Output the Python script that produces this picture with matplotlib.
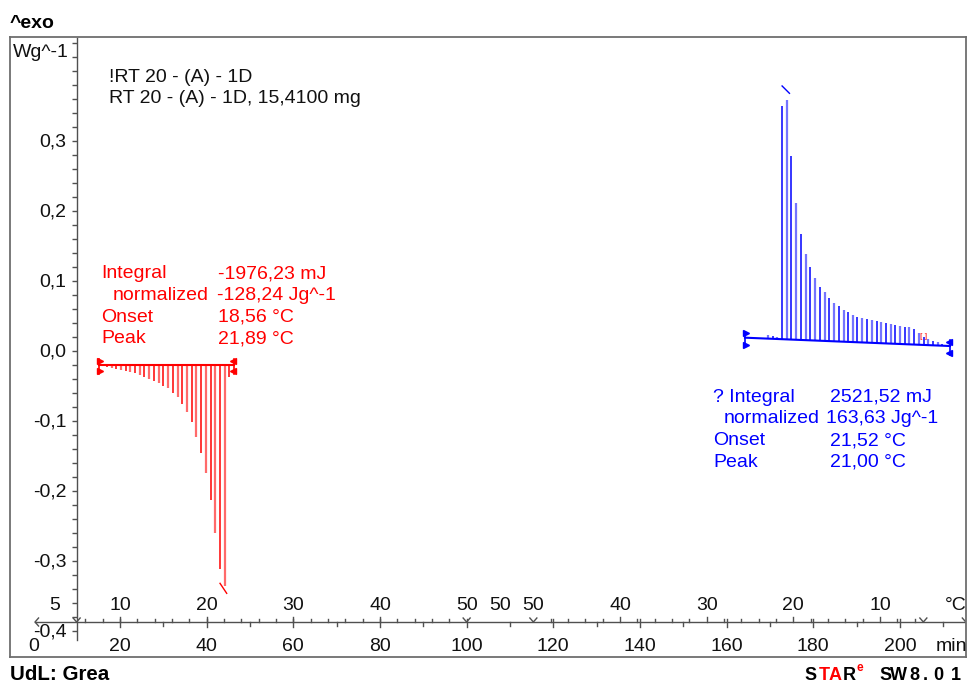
import matplotlib
matplotlib.use("Agg")
import matplotlib.pyplot as plt
import numpy as np

plt.rcParams['font.family'] = ['Liberation Sans', 'DejaVu Sans']

# ---------------- data ----------------
# Melting (endothermic) peak on heating: hatch positions (min) and signal (W/g)
melt_time = [16.94, 18.09, 19.08, 20.17, 21.32, 22.38, 23.47, 24.55, 25.62, 26.77,
             27.85, 28.94, 30.00, 31.08, 32.17, 33.32, 34.38, 35.47, 36.55, 37.62,
             38.70, 39.85, 40.94, 42.00, 43.08, 44.17, 45.23]
melt_signal = [-0.0240, -0.0254, -0.0264, -0.0279, -0.0293, -0.0311, -0.0326, -0.0350, -0.0374, -0.0407,
               -0.0431, -0.0469, -0.0503, -0.0540, -0.0607, -0.0670, -0.0764, -0.0876, -0.1027, -0.1231,
               -0.1460, -0.1757, -0.2129, -0.2603, -0.3124, -0.3360, -0.0374]
melt_base_time = [15.23, 46.25]
melt_base_signal = [-0.0211, -0.0211]
melt_peak_mark_t = [43.09, 44.63]
melt_peak_mark_v = [-0.3326, -0.3469]

# Crystallisation (exothermic) peak on cooling
cryst_time = [167.3, 168.5, 169.6, 170.6, 171.7, 172.7, 173.9, 174.9, 176.1, 177.2,
              178.3, 179.3, 180.5, 181.6, 182.6, 183.7, 184.8, 185.9, 187.0, 188.1,
              189.2, 190.2, 191.3, 192.4, 193.5, 194.6, 195.7, 196.8, 197.9, 198.9,
              200.0, 201.1, 202.2, 203.3, 204.4, 205.5, 206.5, 207.6, 208.7, 209.8]
cryst_signal = [0.0183, 0.0183, 0.0221, 0.0211, 0.0197, 0.3493, 0.3579, 0.2779, 0.2103, 0.1664,
                0.1379, 0.1189, 0.1031, 0.0911, 0.0831, 0.0746, 0.0674, 0.0636, 0.0579, 0.0550,
                0.0507, 0.0483, 0.0469, 0.0446, 0.0431, 0.0426, 0.0403, 0.0389, 0.0374, 0.0371,
                0.0354, 0.0340, 0.0331, 0.0303, 0.0246, 0.0189, 0.0160, 0.0140, 0.0126, 0.0093]
cryst_base_time = [164.24, 211.55]
cryst_base_signal = [0.0183, 0.0064]
cryst_peak_mark_t = [172.8, 174.5]
cryst_peak_mark_v = [0.3779, 0.3674]

# Axes annotation
ytick_vals = [0.3, 0.2, 0.1, 0.0, -0.1, -0.2, -0.3, -0.4]
ytick_labels = ["0,3", "0,2", "0,1", "0,0", "-0,1", "-0,2", "-0,3", "-0,4"]
time_label_vals = [0, 20, 40, 60, 80, 100, 120, 140, 160, 180, 200]
time_labels = ["0", "20", "40", "60", "80", "100", "120", "140", "160", "180", "200"]
temp_label_time = [5.0, 20, 40, 60, 80, 100, 107.7, 115.4, 135.4, 155.4, 175.4, 195.4]
temp_labels = ["5", "10", "20", "30", "40", "50", "50", "50", "40", "30", "20", "10"]
segment_bounds = [10, 100, 115.4, 205.4, 215.2]
heat_temp_ticks = [6, 8, 10, 12, 14, 16, 18, 20, 22, 24, 26, 28, 30, 32, 34, 36, 38, 40, 42, 44, 46, 48]
cool_temp_ticks = [48, 46, 44, 42, 40, 38, 36, 34, 32, 30, 28, 26, 24, 22, 20, 18, 16, 14, 12, 10, 8, 6]

# ---------------- figure ----------------
W, H = 971, 683
fig = plt.figure(figsize=(W / 100, H / 100), dpi=100)

def fx(px):
    return px / W

def fy(py):
    return 1 - py / H

PX_T = 1 / 4.3333   # minutes per pixel
PX_V = 1 / 700.0    # W/g per pixel
fs = 14.0
txt = '#111111'

ax = fig.add_axes([fx(10), fy(657), (966 - 10) / W, (657 - 37) / H])
ax.set_xlim((10 - 33.3) * PX_T, (966 - 33.3) * PX_T)
ax.set_ylim((350.5 - 657) * PX_V, (350.5 - 37) * PX_V)
ax.set_xticks([])
ax.set_yticks([])
for s in ax.spines.values():
    s.set_color('#6e6e6e')
    s.set_linewidth(1.3)

axc = '#505050'
# y axis
y_t = segment_bounds[0]
ax.plot([y_t, y_t], [0.447, -0.413], color=axc, lw=1.0, clip_on=False)
yminor = np.round(np.arange(-0.40, 0.441, 0.02), 2)
ax.hlines(yminor, y_t - 5 * PX_T, y_t, color=axc, lw=1.0)
for v, lab in zip(ytick_vals, ytick_labels):
    ax.text(y_t - 10 * PX_T, v - 6 * PX_V, lab, ha='right', va='baseline', fontsize=fs, color=txt)

# x axis
xa_v = (350.5 - 622) * PX_V
ax.plot([0.4, 216], [xa_v, xa_v], color=axc, lw=1.0)
for t in range(20, 211, 10):
    if t % 20 == 0:
        ax.plot([t, t], [xa_v + 3 * PX_V, xa_v - 5 * PX_V], color=axc, lw=1.0)
    else:
        ax.plot([t, t], [xa_v, xa_v - 4 * PX_V], color=axc, lw=1.0)
for T in heat_temp_ticks:
    t = 2 * T
    ln = 5 if T % 10 == 0 else 3
    ax.plot([t, t], [xa_v, xa_v + ln * PX_V], color=axc, lw=1.0)
for T in cool_temp_ticks:
    t = segment_bounds[2] + 2 * (50 - T)
    ln = 5 if T % 10 == 0 else 3
    ax.plot([t, t], [xa_v, xa_v + ln * PX_V], color=axc, lw=1.0)
for t in segment_bounds:
    ax.plot([t - 3.5 * PX_T, t, t + 3.5 * PX_T], [xa_v + 4 * PX_V, xa_v, xa_v + 4 * PX_V],
            color=axc, lw=1.0)
ax.plot([0.4 + 3.5 * PX_T, 0.4, 0.4 + 3.5 * PX_T], [xa_v + 4 * PX_V, xa_v, xa_v - 4 * PX_V],
        color=axc, lw=1.0)

for t, lab in zip(time_label_vals, time_labels):
    ax.text(t, xa_v - 29 * PX_V, lab, ha='center', va='baseline', fontsize=fs, color=txt)
ax.text((936 - 33.3) * PX_T, xa_v - 29 * PX_V, "min", ha='left', va='baseline', fontsize=fs,
        color=txt, clip_on=True)
for t, lab in zip(temp_label_time, temp_labels):
    ax.text(t, xa_v + 12 * PX_V, lab, ha='center', va='baseline', fontsize=fs, color=txt)
ax.text((945 - 33.3) * PX_T, xa_v + 12 * PX_V, "°C", ha='left', va='baseline', fontsize=fs,
        color=txt, clip_on=True)

# ---------------- melting peak (red) ----------------
red = '#ff0000'
red_l = '#ff6a6a'
base_m = np.interp(melt_time, melt_base_time, melt_base_signal)
for i, (t, b, v) in enumerate(zip(melt_time, base_m, melt_signal)):
    c, lw = (red, 1.1) if i % 2 == 0 else (red_l, 1.6)
    ax.plot([t, t], [b, v], color=c, lw=lw, solid_capstyle='butt')
ax.plot(melt_base_time, melt_base_signal, color=red, lw=1.5)
ax.plot(melt_peak_mark_t, melt_peak_mark_v, color=red, lw=1.0)
for t, mk, d in [(melt_base_time[0], '>', 1), (melt_base_time[1], '<', -1)]:
    b = melt_base_signal[0]
    ax.plot([t, t], [b + 6 * PX_V, b - 9 * PX_V], color=red, lw=1.2)
    ax.plot([t + d * 1.2 * PX_T] * 2, [b + 4.5 * PX_V, b - 6 * PX_V], ls='none', marker=mk,
            ms=4.5, color=red)

# ---------------- crystallisation peak (blue) ----------------
blue = '#0000ff'
blue_l = '#7474ff'
base_c = np.interp(cryst_time, cryst_base_time, cryst_base_signal)
for i, (t, b, v) in enumerate(zip(cryst_time, base_c, cryst_signal)):
    c, lw = (blue, 1.1) if i % 2 == 1 else (blue_l, 1.6)
    ax.plot([t, t], [b, v], color=c, lw=lw, solid_capstyle='butt')
ax.plot(cryst_base_time, cryst_base_signal, color=blue, lw=1.5)
ax.plot(cryst_peak_mark_t, cryst_peak_mark_v, color=blue, lw=1.0)
for t, b, mk, d in [(cryst_base_time[0], cryst_base_signal[0], '>', 1),
                    (cryst_base_time[1], cryst_base_signal[1], '<', -1)]:
    ax.plot([t, t], [b + 6 * PX_V, b - 9 * PX_V], color=blue, lw=1.2)
    ax.plot([t + d * 1.2 * PX_T] * 2, [b + 4.5 * PX_V, b - 7 * PX_V], ls='none', marker=mk,
            ms=4.5, color=blue)
ax.text(205.4, 0.020, "[ ]", color=red, fontsize=6, ha='center', va='center')

# ---------------- texts ----------------
fig.text(fx(10), fy(28.3), "^exo", fontsize=14, fontweight='bold', va='baseline', ha='left')
fig.text(fx(12.5), fy(56.7), "Wg^-1", fontsize=fs, va='baseline', ha='left', color=txt)
fig.text(fx(109), fy(81.7), "!RT 20 - (A) - 1D", fontsize=fs, va='baseline', ha='left', color=txt)
fig.text(fx(109), fy(103.3), "RT 20 - (A) - 1D, 15,4100 mg", fontsize=fs, va='baseline', ha='left',
         color=txt)

red_rows = [("Integral", 101, "-1976,23 mJ", 218, 278.3),
            ("normalized", 113, "-128,24 Jg^-1", 216.5, 299.8),
            ("Onset", 101, "18,56 °C", 218, 321.5),
            ("Peak", 101, "21,89 °C", 218, 343.3)]
for lab, lx, val, vx, by in red_rows:
    fig.text(fx(lx), fy(by), lab, color=red, fontsize=fs, va='baseline', ha='left')
    fig.text(fx(vx), fy(by), val, color=red, fontsize=fs, va='baseline', ha='left')

blue_rows = [("? Integral", 713, "2521,52 mJ", 830, 401.7),
             ("normalized", 724, "163,63 Jg^-1", 826, 423.3),
             ("Onset", 713, "21,52 °C", 830, 445.0),
             ("Peak", 713, "21,00 °C", 830, 466.7)]
for lab, lx, val, vx, by in blue_rows:
    fig.text(fx(lx), fy(by), lab, color=blue, fontsize=fs, va='baseline', ha='left')
    fig.text(fx(vx), fy(by), val, color=blue, fontsize=fs, va='baseline', ha='left')

fig.text(fx(10), fy(680), "UdL: Grea", fontsize=14.8, fontweight='bold', va='baseline', ha='left')
# "STARe SW 8.01" logo, letter-spaced
logo = [("S", 804.5, 'black'), ("T", 818.5, red), ("A", 829, red), ("R", 842.5, 'black'),
        ("S", 879, 'black'), ("W", 890, 'black'), ("8", 909, 'black'), (".", 923, 'black'),
        ("0", 933, 'black'), ("1", 951, 'black')]
for ch, px, col in logo:
    fig.text(fx(px), fy(680), ch, fontsize=13, fontweight='bold', color=col, va='baseline', ha='left')
fig.text(fx(856), fy(671), "e", fontsize=8.5, fontweight='bold', color=red, va='baseline', ha='left')

fig.savefig("out.png", dpi=100)
